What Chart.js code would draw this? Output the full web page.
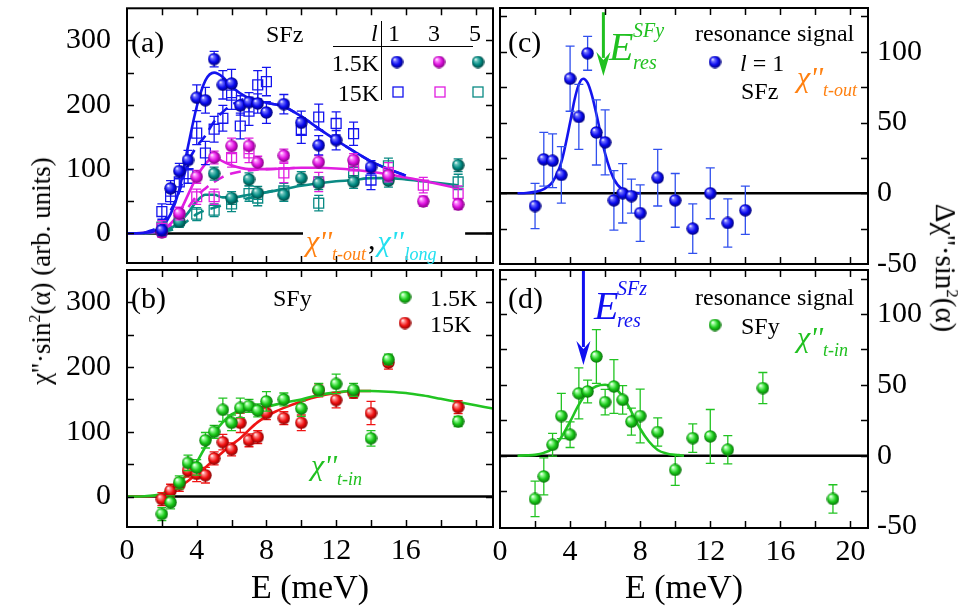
<!DOCTYPE html>
<html><head><meta charset="utf-8">
<script src="https://cdn.jsdelivr.net/npm/chart.js@4/dist/chart.umd.min.js"></script>
<style>
body{margin:0;background:#fff;}
#wrap{position:relative;width:974px;height:610px;overflow:hidden;font-family:'Liberation Serif','Times New Roman',serif;background:#fff;}
canvas{position:absolute;left:0;top:0;}
.t{position:absolute;white-space:nowrap;line-height:1;color:#000;}
.i{font-style:italic;}
</style></head><body>
<div id="wrap">
<canvas id="ca" width="974" height="610"></canvas>
<canvas id="cb" width="974" height="610"></canvas>
<canvas id="cc" width="974" height="610"></canvas>
<canvas id="cd" width="974" height="610"></canvas>

<!-- axis titles -->
<div class="t" style="left:41px;top:271px;font-size:27px;transform:translate(-50%,-50%) rotate(-90deg);">χ''·sin<sup style="font-size:16px">2</sup>(α) (arb. units)</div>
<div class="t" style="left:946px;top:268px;font-size:29px;transform:translate(-50%,-50%) rotate(90deg);">Δχ''·sin<sup style="font-size:17px">2</sup>(α)</div>

<!-- panel a -->
<div class="t" style="left:131px;top:27px;font-size:30px">(a)</div>
<div class="t" style="left:266px;top:22px;font-size:24px">SFz</div>
<div class="t i" style="left:371px;top:21px;font-size:24px">l</div>
<div class="t" style="left:388px;top:21px;font-size:24px">1</div>
<div class="t" style="left:428px;top:21px;font-size:24px">3</div>
<div class="t" style="left:469px;top:21px;font-size:24px">5</div>
<div class="t" style="right:595px;top:51px;font-size:24px">1.5K</div>
<div class="t" style="right:595px;top:81px;font-size:24px">15K</div>
<div class="t" style="left:306px;top:226px;font-size:30px;"><span class="i" style="color:#ff8010">χ''</span><span class="i" style="color:#ff8010;font-size:18px;position:relative;top:9px">t-out</span><span style="position:relative;left:2px;top:-2px">,</span><span class="i" style="color:#22e0f0;position:relative;left:4px">χ''</span><span class="i" style="color:#22e0f0;font-size:18px;position:relative;top:9px;left:5px">long</span></div>

<!-- panel b -->
<div class="t" style="left:131px;top:283px;font-size:30px">(b)</div>
<div class="t" style="left:273px;top:286px;font-size:24px">SFy</div>
<div class="t" style="left:430px;top:286px;font-size:24px">1.5K</div>
<div class="t" style="left:430px;top:312px;font-size:24px">15K</div>
<div class="t" style="left:311px;top:450px;font-size:30px;color:#20c020"><span class="i">χ''</span><span class="i" style="font-size:18px;position:relative;top:10px">t-in</span></div>

<!-- panel c -->
<div class="t" style="left:508px;top:27px;font-size:30px">(c)</div>
<div class="t i" style="left:609px;top:27px;font-size:40px;color:#20c020">E</div>
<div class="t i" style="left:633px;top:20px;font-size:20px;color:#20c020">SFy</div>
<div class="t i" style="left:633px;top:52px;font-size:20px;color:#20c020">res</div>
<div class="t" style="left:695px;top:21px;font-size:24px">resonance signal</div>
<div class="t" style="left:740px;top:51px;font-size:24px"><span class="i">l</span> = 1</div>
<div class="t" style="left:741px;top:79px;font-size:24px">SFz</div>
<div class="t" style="left:797px;top:62px;font-size:30px;color:#ff8010"><span class="i">χ''</span><span class="i" style="font-size:18px;position:relative;top:9px">t-out</span></div>

<!-- panel d -->
<div class="t" style="left:508px;top:283px;font-size:30px">(d)</div>
<div class="t i" style="left:594px;top:286px;font-size:40px;color:#1010f0">E</div>
<div class="t i" style="left:617px;top:278px;font-size:20px;color:#1010f0">SFz</div>
<div class="t i" style="left:617px;top:310px;font-size:20px;color:#1010f0">res</div>
<div class="t" style="left:695px;top:285px;font-size:24px">resonance signal</div>
<div class="t" style="left:741px;top:314px;font-size:24px">SFy</div>
<div class="t" style="left:797px;top:322px;font-size:30px;color:#20c020"><span class="i">χ''</span><span class="i" style="font-size:18px;position:relative;top:9px">t-in</span></div>
</div>

<script>
// ---------------- DATA ----------------
// Panel (a): SFz, l = 1, 3, 5 at 1.5K (filled) and 15K (open)
const aL1_15K_E   = [2, 2.5, 3, 3.5, 4, 4.5, 5, 5.5, 6, 6.5, 7, 7.5, 8, 9, 10, 11, 12, 14];
const aL1_15K_V   = [5, 70, 97, 114, 211, 207, 271, 231, 233, 199, 204, 202, 188, 201, 172, 137, 145, 103];
const aL1_15K_Err = [8, 12, 12, 15, 20, 20, 12, 22, 22, 15, 15, 15, 17, 15, 18, 15, 15, 10];

const aL1_150K_E   = [2, 2.5, 3, 3.5, 4, 4.5, 5, 5.5, 6, 6.5, 7, 7.5, 8, 10, 11, 12, 13, 14];
const aL1_150K_V   = [34, 57, 80, 93, 156, 125, 162, 179, 215, 167, 190, 231, 236, 160, 181, 171, 155, 83];
const aL1_150K_Err = [12, 12, 15, 15, 18, 18, 20, 20, 22, 20, 22, 22, 22, 20, 20, 18, 18, 15];

const aL3_15K_E   = [2, 3, 4, 5, 6, 7, 7.5, 9, 11, 13, 15, 17, 19];
const aL3_15K_V   = [2, 31, 88, 118, 136, 136, 110, 121, 111, 114, 90, 50, 45];
const aL3_15K_Err = [8, 10, 10, 10, 12, 12, 10, 10, 10, 10, 10, 8, 8];

const aL3_150K_E   = [2, 3, 4, 5, 6, 7, 9, 11, 13, 15, 17, 19];
const aL3_150K_V   = [8, 28, 57, 57, 118, 125, 94, 80, 105, 95, 75, 62];
const aL3_150K_Err = [12, 12, 12, 12, 15, 15, 15, 15, 15, 15, 12, 12];

const aL5_15K_E   = [2, 3, 5, 6, 7, 7.5, 9, 10, 11, 13, 15, 19];
const aL5_15K_V   = [3, 18, 93, 55, 84, 63, 60, 86, 78, 80, 82, 106];
const aL5_15K_Err = [8, 8, 10, 10, 10, 10, 10, 10, 10, 10, 10, 10];

const aL5_150K_E   = [2, 3, 4, 5, 6, 7, 7.5, 9, 11, 13, 15, 19];
const aL5_150K_V   = [10, 20, 30, 36, 46, 62, 55, 66, 47, 95, 105, 80];
const aL5_150K_Err = [10, 10, 10, 10, 12, 12, 12, 12, 12, 12, 12, 12];

// fit curves (a)
const aFitL1_E  = [0, 1, 1.5, 2, 2.5, 3, 3.5, 4, 4.5, 5, 5.5, 6, 7, 8, 9, 10, 11, 12, 13, 14, 15, 16];
const aFitL1_V  = [0, 1, 3, 10, 30, 68, 135, 197, 238, 250, 243, 228, 210, 203, 197, 182, 163, 145, 128, 112, 100, 90];
const aFitL1d_E = [1, 2, 3, 3.5, 4, 4.5, 5, 5.5, 6, 7, 8, 9, 10, 11, 12, 13, 14, 15, 16];
const aFitL1d_V = [1, 15, 65, 110, 135, 152, 174, 189, 200, 210, 203, 197, 182, 163, 145, 128, 112, 100, 90];
const aFitL3_E  = [0, 1, 2, 2.5, 3, 3.5, 4, 4.5, 5, 5.5, 6, 7, 8, 9, 10, 11, 12, 13, 14, 15, 16, 17, 18, 19];
const aFitL3_V  = [0, 1, 5, 15, 32, 60, 88, 108, 119, 112, 106, 100, 100, 101, 102, 102, 101, 99, 96, 92, 87, 82, 76, 70];
const aFitL3d_E = [1, 2, 3, 3.5, 4, 4.5, 5, 5.5, 6, 7, 8, 9, 10];
const aFitL3d_V = [0.5, 4, 22, 40, 58, 70, 80, 88, 93, 98, 100, 101, 102];
const aFitL5_E  = [0, 1, 2, 2.5, 3, 3.5, 4, 4.5, 5, 5.5, 6, 7, 8, 9, 10, 11, 12, 13, 14, 15, 16, 17, 18, 19];
const aFitL5_V  = [0, 0.5, 3, 8, 17, 32, 50, 60, 60, 56, 56, 60, 64, 69, 74, 78, 81, 83, 86, 86, 84, 81, 78, 75];
const aFitL5d_E = [1, 2, 3, 3.5, 4, 4.5, 5, 6, 7, 8, 9];
const aFitL5d_V = [0.3, 2, 10, 20, 30, 36, 40, 48, 55, 64, 69];
const aZero_E = [0, 10.1, 10.2, 19.4, 21];
const aZero_V = [0, 0, null, 0, 0];

// Panel (b): SFy
const bGreen_E   = [2, 2.5, 3, 3.5, 4, 4.5, 5, 5.5, 6, 6.5, 7, 7.5, 8, 9, 10, 11, 12, 13, 14, 15, 19];
const bGreen_V   = [-27, -9, 22, 52, 45, 87, 100, 134, 114, 137, 140, 133, 147, 150, 136, 165, 174, 165, 90, 212, 116];
const bGreen_Err = [10, 10, 10, 12, 12, 12, 10, 18, 12, 15, 10, 10, 15, 10, 12, 10, 15, 10, 12, 8, 8];
const bRed_E   = [2, 2.5, 3, 3.5, 4, 4.5, 5, 5.5, 6, 6.5, 7, 7.5, 8, 9, 10, 11, 12, 13, 14, 15, 19];
const bRed_V   = [-4, 9, 18, 40, 35, 33, 59, 84, 73, 114, 87, 92, 129, 121, 114, 164, 149, 160, 129, 207, 138];
const bRed_Err = [10, 10, 10, 10, 12, 12, 10, 12, 10, 15, 10, 10, 10, 10, 12, 10, 12, 8, 18, 10, 10];
const bFitGreen_E = [0, 1, 1.5, 2, 2.5, 3, 3.5, 4, 4.5, 5, 5.5, 6, 6.5, 7, 8, 9, 10, 11, 12, 13, 14, 15, 16, 17, 18, 19, 20, 21];
const bFitGreen_V = [0, 0.5, 1.5, 4, 12, 22, 35, 53, 77, 98, 115, 127, 133, 136, 139, 145, 150, 157, 161, 163, 163, 162, 160, 156, 151, 146, 141, 136];
const bFitRed_E = [0, 1, 1.5, 2, 2.5, 3, 3.5, 4, 4.5, 5, 5.5, 6, 6.5, 7, 7.5, 8, 8.5, 9, 10, 11, 12, 13, 14];
const bFitRed_V = [0, 0.5, 1, 3, 8, 15, 24, 35, 45, 57, 69, 80, 90, 103, 115, 124, 131, 137, 147, 155, 160, 163, 163];
const bZero_E = [0, 21];
const bZero_V = [0, 0];

// Panel (c): resonance signal SFz l=1
const c_E   = [2, 2.5, 3, 3.5, 4, 4.5, 5, 5.5, 6, 6.5, 7, 7.5, 8, 9, 10, 11, 12, 13, 14];
const c_V   = [-9, 24, 23, 13, 81, 54, 99, 43, 36, -5, 0, -2, -14, 11, -5, -25, 0, -21, -12];
const c_Err = [16, 19, 19, 20, 23, 23, 12, 23, 23, 21, 21, 12, 20, 20, 19, 17.5, 18, 17, 17];
const cFit_E = [1, 1.5, 2, 2.5, 3, 3.5, 4, 4.25, 4.5, 4.75, 5, 5.25, 5.5, 6, 6.5, 7, 7.5, 8];
const cFit_V = [0, 0.2, 1, 3, 8, 22, 50, 66, 77, 81, 78, 69, 56, 28, 10, 2.5, 0.5, 0];
const cZero_E = [0, 21];
const cZero_V = [0, 0];

// Panel (d): resonance signal SFy
const d_E   = [2, 2.5, 3, 3.5, 4, 4.5, 5, 5.5, 6, 6.5, 7, 7.5, 8, 9, 10, 11, 12, 13, 15, 19];
const d_V   = [-30.5, -14.6, 7.7, 28, 14.8, 44, 45.3, 70, 37.8, 48.8, 39.4, 24, 28, 16.7, -10, 12.4, 13.6, 4.2, 47.7, -30.5];
const d_Err = [12.5, 13, 8, 16, 9, 18, 8, 19, 9, 19, 10, 9.5, 19, 10, 11, 10, 19, 10, 11, 10];
const dFit_E = [1, 1.5, 2, 2.5, 3, 3.5, 4, 4.5, 5, 5.5, 6, 6.5, 7, 7.5, 8, 8.5, 9, 9.5, 10, 10.5];
const dFit_V = [0, 0.2, 0.6, 2, 5, 13, 24, 36, 45, 49, 50, 48, 42, 31, 19, 10, 4, 1.5, 0.5, 0];
const dZero_E = [0, 21];
const dZero_V = [0, 0];

// arrows (E position, top value, tip value)
const arrowC = {E: 5.9, top: 128, tip: 83};
const arrowD = {E: 4.76, top: 131, tip: 64};

// ---------------- HELPERS ----------------
Chart.defaults.font.family = "'Liberation Serif','Times New Roman',serif";
Chart.defaults.color = '#000';

const COL = {
  blue: '#1414ee', magenta: '#e01ee0', teal: '#0a8a84', green: '#22c422', red: '#f01414'
};
function sphere(base, light, dark, d) {
  const c = document.createElement('canvas');
  c.width = d; c.height = d;
  const g = c.getContext('2d'); const r = d / 2;
  const grad = g.createRadialGradient(r - r * 0.38, r - r * 0.42, r * 0.05, r, r, r);
  grad.addColorStop(0, '#ffffff');
  grad.addColorStop(0.18, light);
  grad.addColorStop(0.6, base);
  grad.addColorStop(1, dark);
  g.fillStyle = grad; g.beginPath(); g.arc(r, r, r - 0.3, 0, Math.PI * 2); g.fill();
  return c;
}
const SP = {
  blue: sphere('#0a0af0', '#7a7aff', '#000070', 13),
  magenta: sphere('#dd10dd', '#ff90ff', '#7a007a', 13),
  teal: sphere('#008a82', '#70c8c0', '#003e3a', 13),
  green: sphere('#18c818', '#a0ffa0', '#0a6a0a', 13),
  red: sphere('#f01010', '#ff9a9a', '#800000', 13)
};
const pts = (E, V) => E.map((e, i) => ({x: e, y: V[i]}));

function ptsSet(E, V, err, color, img, order) {
  return {type: 'line', data: pts(E, V), errors: err, errColor: color, showLine: false,
    pointStyle: img, pointRadius: 6.5, order: order};
}
function sqSet(E, V, err, color, order) {
  return {type: 'line', data: pts(E, V), errors: err, errColor: color, showLine: false,
    pointStyle: 'rect', pointRadius: 7, pointBorderWidth: 1.3, pointBorderColor: color,
    pointBackgroundColor: 'rgba(255,255,255,0)', order: order};
}
function curve(E, V, color, dash, order, width) {
  return {type: 'line', data: pts(E, V), borderColor: color, borderWidth: width || 2.6,
    borderDash: dash || [], pointRadius: 0, cubicInterpolationMode: 'monotone',
    spanGaps: false, order: order};
}

const errorBars = {
  id: 'errorBars',
  beforeDatasetDraw(chart, args) {
    const ds = chart.data.datasets[args.index];
    if (!ds.errors) return;
    const {ctx, chartArea: a} = chart; const ys = chart.scales.y;
    ctx.save();
    ctx.beginPath(); ctx.rect(a.left, a.top, a.right - a.left, a.bottom - a.top); ctx.clip();
    ctx.strokeStyle = ds.errColor; ctx.lineWidth = 1.3;
    args.meta.data.forEach((p, j) => {
      const v = ds.data[j].y, e = ds.errors[j];
      const y1 = ys.getPixelForValue(v + e), y2 = ys.getPixelForValue(v - e), x = p.x;
      ctx.beginPath();
      ctx.moveTo(x, y1); ctx.lineTo(x, y2);
      ctx.moveTo(x - 4.5, y1); ctx.lineTo(x + 4.5, y1);
      ctx.moveTo(x - 4.5, y2); ctx.lineTo(x + 4.5, y2);
      ctx.stroke();
    });
    ctx.restore();
  }
};

const frame = {
  id: 'frame',
  afterDraw(chart) {
    const {ctx, chartArea: a} = chart; const x = chart.scales.x, y = chart.scales.y;
    ctx.save(); ctx.strokeStyle = '#000';
    ctx.lineWidth = 1.5;
    const L = 7;
    x.ticks.forEach(t => {
      const px = Math.round(x.getPixelForValue(t.value)) + 0.5;
      if (px <= a.left + 2 || px >= a.right - 2) return;
      ctx.beginPath(); ctx.moveTo(px, a.bottom); ctx.lineTo(px, a.bottom - L);
      ctx.moveTo(px, a.top); ctx.lineTo(px, a.top + L); ctx.stroke();
    });
    y.ticks.forEach(t => {
      const py = Math.round(y.getPixelForValue(t.value)) + 0.5;
      if (py <= a.top + 2 || py >= a.bottom - 2) return;
      ctx.beginPath(); ctx.moveTo(a.left, py); ctx.lineTo(a.left + L, py);
      ctx.moveTo(a.right, py); ctx.lineTo(a.right - L, py); ctx.stroke();
    });
    ctx.lineWidth = 2;
    ctx.strokeRect(a.left, a.top, a.right - a.left, a.bottom - a.top);
    ctx.restore();
  }
};

function glyphs(items, lines) {
  return {id: 'glyphs', afterDraw(chart) {
    const ctx = chart.ctx; ctx.save();
    items.forEach(it => {
      if (it.img) ctx.drawImage(it.img, it.x - it.img.width / 2, it.y - it.img.height / 2);
      else { ctx.strokeStyle = it.sq; ctx.lineWidth = 1.3; ctx.strokeRect(it.x - 5, it.y - 5, 10, 10); }
    });
    ctx.strokeStyle = '#000'; ctx.lineWidth = 1;
    (lines || []).forEach(l => { ctx.beginPath(); ctx.moveTo(l[0], l[1]); ctx.lineTo(l[2], l[3]); ctx.stroke(); });
    ctx.restore();
  }};
}
function arrow(A, color) {
  return {id: 'arrow', afterDatasetsDraw(chart) {
    const {ctx} = chart; const x = chart.scales.x, y = chart.scales.y;
    const px = x.getPixelForValue(A.E), y0 = y.getPixelForValue(A.top), y1 = y.getPixelForValue(A.tip);
    const hh = 24, hw = 7;
    ctx.save(); ctx.strokeStyle = color; ctx.fillStyle = color; ctx.lineWidth = 3;
    ctx.beginPath(); ctx.moveTo(px, y0); ctx.lineTo(px, y1 - hh + 6); ctx.stroke();
    ctx.beginPath(); ctx.moveTo(px, y1); ctx.lineTo(px - hw, y1 - hh); ctx.lineTo(px, y1 - hh + 8);
    ctx.lineTo(px + hw, y1 - hh); ctx.closePath(); ctx.fill();
    ctx.restore();
  }};
}

function makeChart(id, datasets, cfg, extraPlugins) {
  const xTicks = cfg.xLabels
    ? {stepSize: 2, includeBounds: false, autoSkip: false, maxRotation: 0, padding: 6,
       font: {size: 30}, callback: v => (v % 4 === 0 && v <= cfg.xMaxLabel) ? String(v) : ''}
    : {stepSize: 2, includeBounds: false, autoSkip: false, display: false};
  return new Chart(document.getElementById(id), {
    type: 'line',
    data: {datasets},
    options: {
      responsive: false, animation: false, devicePixelRatio: 1,
      layout: {padding: cfg.pad},
      plugins: {legend: {display: false}, tooltip: {enabled: false}},
      scales: {
        x: {type: 'linear', min: 0, max: 21, position: 'bottom',
            grid: {display: false, drawTicks: false}, border: {display: false},
            ticks: xTicks,
            title: cfg.xLabels ? {display: true, text: 'E (meV)', font: {size: 34}, padding: {top: 0, bottom: 1}} : {display: false},
            afterFit(s) { s.height = cfg.xH; s.paddingLeft = 0; s.paddingRight = 0; }},
        y: {type: 'linear', min: cfg.ymin, max: cfg.ymax, position: cfg.yPos,
            grid: {display: false, drawTicks: false}, border: {display: false},
            ticks: {stepSize: cfg.yStep, includeBounds: false, autoSkip: false, padding: cfg.yPad,
                    font: {size: 30}, callback: v => (v % cfg.yLabelStep === 0) ? String(v) : ''},
            afterFit(s) { s.width = cfg.yW; s.paddingTop = 0; s.paddingBottom = 0; }}
      }
    },
    plugins: [errorBars, frame].concat(extraPlugins || [])
  });
}

// ---------------- CHART A ----------------
makeChart('ca', [
  ptsSet(aL1_15K_E, aL1_15K_V, aL1_15K_Err, COL.blue, SP.blue, 1),
  ptsSet(aL3_15K_E, aL3_15K_V, aL3_15K_Err, COL.magenta, SP.magenta, 2),
  ptsSet(aL5_15K_E, aL5_15K_V, aL5_15K_Err, COL.teal, SP.teal, 3),
  sqSet(aL1_150K_E, aL1_150K_V, aL1_150K_Err, COL.blue, 4),
  sqSet(aL3_150K_E, aL3_150K_V, aL3_150K_Err, COL.magenta, 5),
  sqSet(aL5_150K_E, aL5_150K_V, aL5_150K_Err, COL.teal, 6),
  curve(aFitL1_E, aFitL1_V, COL.blue, null, 7),
  curve(aFitL3_E, aFitL3_V, COL.magenta, null, 8),
  curve(aFitL5_E, aFitL5_V, COL.teal, null, 9),
  curve(aFitL1d_E, aFitL1d_V, COL.blue, [11, 7], 10),
  curve(aFitL3d_E, aFitL3d_V, COL.magenta, [11, 7], 11),
  curve(aFitL5d_E, aFitL5d_V, COL.teal, [11, 7], 12),
  curve(aZero_E, aZero_V, '#000', null, 20, 2.5)
], {pad: {left: 0, top: 8, right: 481, bottom: 347}, xH: 0, xLabels: false,
    ymin: -46, ymax: 350, yPos: 'left', yStep: 50, yLabelStep: 100, yW: 127, yPad: 16},
  [glyphs([
    {img: SP.blue, x: 397, y: 62}, {img: SP.magenta, x: 439, y: 62}, {img: SP.teal, x: 478, y: 62},
    {sq: COL.blue, x: 398, y: 92}, {sq: COL.magenta, x: 440, y: 92}, {sq: COL.teal, x: 478, y: 92}
  ], [[381.5, 21, 381.5, 100], [333, 46.5, 473, 46.5]])]);

// ---------------- CHART B ----------------
makeChart('cb', [
  ptsSet(bGreen_E, bGreen_V, bGreen_Err, COL.green, SP.green, 1),
  ptsSet(bRed_E, bRed_V, bRed_Err, COL.red, SP.red, 2),
  curve(bFitGreen_E, bFitGreen_V, COL.green, null, 5),
  curve(bFitRed_E, bFitRed_V, COL.red, null, 6),
  curve(bZero_E, bZero_V, '#000', null, 20, 2.5)
], {pad: {left: 0, top: 270, right: 481, bottom: 0}, xH: 83, xLabels: true, xMaxLabel: 16,
    ymin: -47, ymax: 350, yPos: 'left', yStep: 50, yLabelStep: 100, yW: 127, yPad: 16},
  [glyphs([{img: SP.green, x: 405, y: 297}, {img: SP.red, x: 405, y: 323}])]);

// ---------------- CHART C ----------------
makeChart('cc', [
  ptsSet(c_E, c_V, c_Err, '#3050ee', SP.blue, 1),
  curve(cFit_E, cFit_V, COL.blue, null, 5),
  curve(cZero_E, cZero_V, '#000', null, 20, 2.5)
], {pad: {left: 500, top: 8, right: 0, bottom: 346}, xH: 0, xLabels: false,
    ymin: -50, ymax: 131, yPos: 'right', yStep: 25, yLabelStep: 50, yW: 106, yPad: 9},
  [arrow(arrowC, '#20c020'), glyphs([{img: SP.blue, x: 715, y: 62}])]);

// ---------------- CHART D ----------------
makeChart('cd', [
  ptsSet(d_E, d_V, d_Err, COL.green, SP.green, 1),
  curve(dFit_E, dFit_V, COL.green, null, 5),
  curve(dZero_E, dZero_V, '#000', null, 20, 2.5)
], {pad: {left: 500, top: 270, right: 0, bottom: 0}, xH: 82, xLabels: true, xMaxLabel: 20,
    ymin: -51, ymax: 131, yPos: 'right', yStep: 25, yLabelStep: 50, yW: 106, yPad: 9},
  [arrow(arrowD, '#1010f0'), glyphs([{img: SP.green, x: 715, y: 325}])]);
</script>
</body></html>
